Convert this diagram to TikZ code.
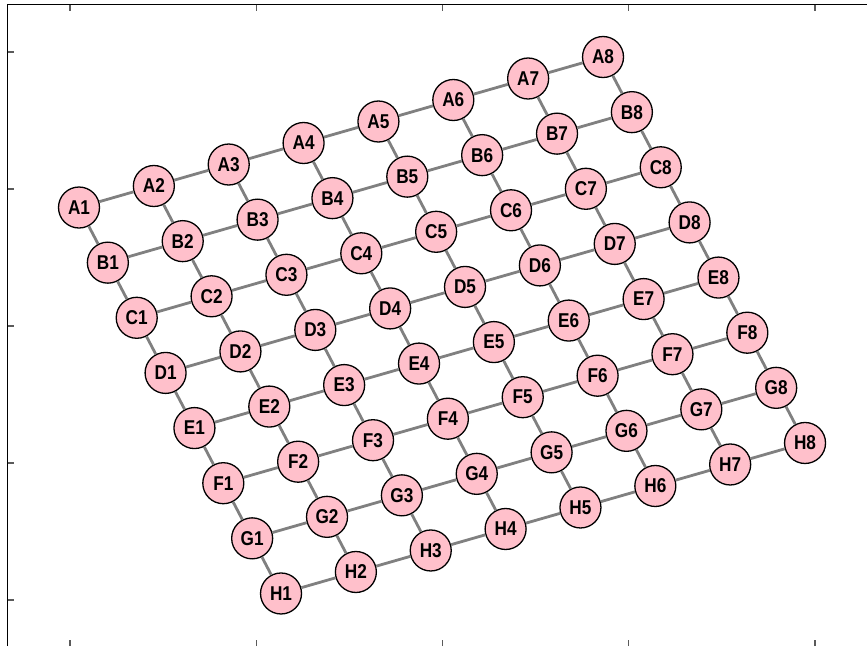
\documentclass[tikz,border=0pt]{standalone}
\usepackage{fontspec}
\newfontfamily\nodefont[FakeStretch=0.86]{Liberation Sans}
\begin{document}
\begin{tikzpicture}[x=1pt,y=-1pt,
  vtx/.style={circle,draw=black,line width=1.3pt,fill={rgb,255:red,255;green,192;blue,203},
    minimum size=41pt,inner sep=0pt,font=\nodefont\bfseries\fontsize{20}{20}\selectfont},
  edg/.style={draw={rgb,255:red,128;green,128;blue,128},line width=2.8pt},
  frm/.style={draw=black,line width=1.4pt},
  tck/.style={draw={rgb,255:red,90;green,90;blue,90},line width=1.3pt}]
\useasboundingbox (0,0) rectangle (867,646);
% frame
\draw[frm] (7.5,646) -- (7.5,4.5) -- (867,4.5);
\foreach \tx in {70,256.25,442.5,628.75,815}{
  \draw[tck] (\tx,4.5) -- (\tx,10.5);
  \draw[tck] (\tx,646) -- (\tx,640);
}
\foreach \ty in {52,189,326,463,600}{
  \draw[tck] (7.5,\ty) -- (13.5,\ty);
}
% nodes
\foreach \r [count=\i] in {A,B,C,D,E,F,G,H}{
  \foreach \j in {1,...,8}{
    \pgfmathsetmacro{\px}{79+74.86*(\j-1)+28.86*(\i-1)}
    \pgfmathsetmacro{\py}{207.5-21.5*(\j-1)+55.14*(\i-1)}
    \node[vtx] (\r\j) at (\px,\py) {\r\j};
  }
}
% horizontal edges
\foreach \r in {A,B,C,D,E,F,G,H}{
  \foreach \j [evaluate=\j as \k using int(\j+1)] in {1,...,7}{
    \draw[edg] (\r\j) -- (\r\k);
  }
}
% vertical edges
\foreach \r/\s in {A/B,B/C,C/D,D/E,E/F,F/G,G/H}{
  \foreach \j in {1,...,8}{
    \draw[edg] (\r\j) -- (\s\j);
  }
}
\end{tikzpicture}
\end{document}
